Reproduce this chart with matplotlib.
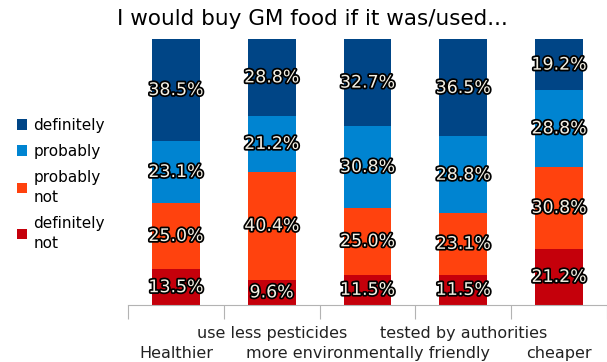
import matplotlib
matplotlib.use("Agg")
import matplotlib.pyplot as plt
import matplotlib.patheffects as pe
import matplotlib.transforms as mtransforms
import numpy as np

# survey answers, percent per category
categories = ["Healthier", "use less pesticides", "more environmentally friendly",
              "tested by authorities", "cheaper"]
definitely_not = [13.5, 9.6, 11.5, 11.5, 21.2]
probably_not = [25.0, 40.4, 25.0, 23.1, 30.8]
probably = [23.1, 21.2, 30.8, 28.8, 28.8]
definitely = [38.5, 28.8, 32.7, 36.5, 19.2]

series = [definitely_not, probably_not, probably, definitely]
names = ["definitely\nnot", "probably\nnot", "probably", "definitely"]
colors = ["#c5000b", "#ff420e", "#0084d1", "#004586"]

fig = plt.figure(figsize=(6.07, 3.62), dpi=100)
ax = fig.add_axes([0.211, 0.157, 0.789, 0.735])

x = np.arange(len(categories))
bottom = np.zeros(len(categories))
handles = []
for vals, name, col in zip(series, names, colors):
    vals = np.array(vals)
    b = ax.bar(x, vals, width=0.5, bottom=bottom, color=col, label=name)
    handles.append(b)
    for xi, v, b0 in zip(x, vals, bottom):
        t = ax.text(xi, b0 + v / 2, "%.1f%%" % v, ha="center", va="center",
                    fontsize=12.5, color="#f4f0e4")
        t.set_path_effects([pe.withStroke(linewidth=2.5, foreground="black")])
    bottom += vals

ax.set_xlim(-0.5, len(categories) - 0.5)
ax.set_ylim(0, 100)
ax.set_yticks([])
for s in ["top", "right", "left"]:
    ax.spines[s].set_visible(False)
ax.spines["bottom"].set_color("#b3b3b3")

# category boundaries as ticks
ax.set_xticks(np.arange(len(categories) + 1) - 0.5)
ax.set_xticklabels([])
ax.tick_params(axis="x", length=10, color="#b3b3b3")

# staggered category labels
trans = mtransforms.blended_transform_factory(ax.transData, ax.transAxes)
for i, c in enumerate(categories):
    yy = -0.105 if i % 2 == 1 else -0.18
    ax.text(i, yy, c, transform=trans, ha="center", va="center",
            fontsize=11.5, color="#222222")

fig.suptitle("I would buy GM food if it was/used...", x=0.515, y=0.975, fontsize=15.5)

leg = fig.legend(handles[::-1], names[::-1], loc="center left", bbox_to_anchor=(0.005, 0.49),
                 frameon=False, fontsize=11, handlelength=0.7, handleheight=0.7,
                 handletextpad=0.4, labelspacing=0.7)
for t in leg.get_texts():
    t.set_linespacing(1.45)

fig.savefig("out.png", dpi=100)
